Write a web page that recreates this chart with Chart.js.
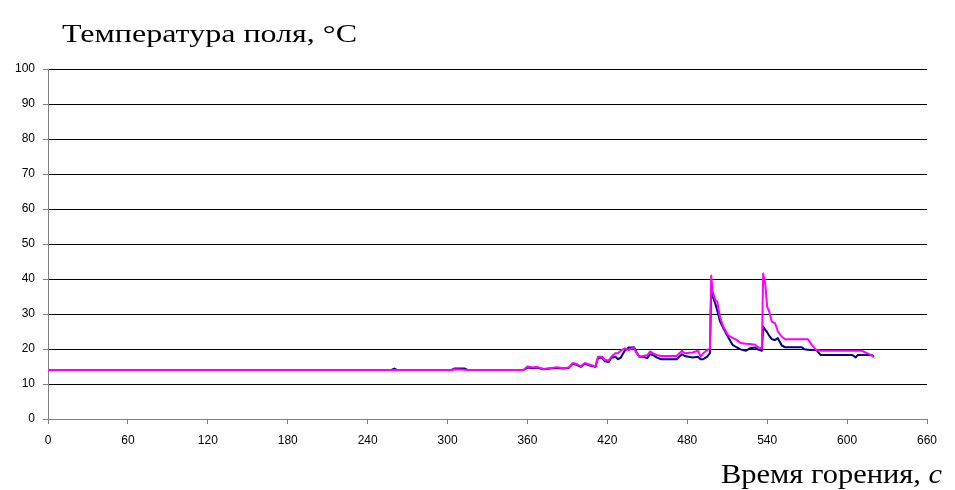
<!DOCTYPE html>
<html>
<head>
<meta charset="utf-8">
<script src="https://cdn.jsdelivr.net/npm/chart.js@4"></script>
<style>
  html, body { margin: 0; padding: 0; background: #fff; }
  #wrap { width: 955px; height: 490px; position: relative; }
</style>
</head>
<body>
<div id="wrap"><canvas id="chart" width="955" height="490"></canvas></div>
<script>
// время горения, с
const times = [
  0, 258, 260, 262, 303, 305, 313, 315, 350, 357,
  360, 364, 367, 372, 377, 382, 387, 391, 394, 397,
  400, 403, 407, 411, 413, 416, 418, 421, 423, 426,
  428, 430, 433, 436, 438, 440, 442, 444, 447, 450,
  452, 454, 457, 460, 462, 467, 472, 476, 478, 484,
  488, 490, 492, 495, 497, 498, 499, 501, 502.5, 504.5,
  507, 510.5, 514, 517, 520, 524, 527, 531, 533, 536,
  537, 538.5, 540, 541.5, 543.5, 546, 548, 551, 553.5, 560,
  566, 568, 570.5, 573.5, 577, 580, 590, 604, 606.5, 608,
  611, 615, 618.5, 620
];

// розовая линия
const tempPink = [
  14, 14, 14, 14, 14, 14.2, 14.1, 14, 14, 14,
  15, 14.7, 14.9, 14.3, 14.5, 14.8, 14.5, 14.7, 16, 15.7,
  15, 16, 15.5, 15, 17.8, 17.8, 16.9, 16.7, 17.8, 18.8,
  18.8, 19.5, 20.2, 19.7, 20.2, 20.3, 18.8, 17.8, 18, 18.2,
  19.3, 18.8, 18.3, 18, 18, 18, 18, 19.5, 18.8, 19,
  19.5, 17.8, 18.8, 19.7, 20, 41, 36.5, 34, 33.5, 29.2,
  26.4, 24, 23.2, 22.6, 21.7, 21.5, 21.4, 21.2, 20.5, 20.2,
  41.6, 38.7, 32.1, 30.7, 27.8, 27.3, 25, 23.5, 22.8, 22.8,
  22.8, 22.8, 22.8, 21.2, 19.7, 19.5, 19.5, 19.5, 19.5, 19.5,
  19.5, 18.8, 18.2, 17.8
];

// синяя линия
const tempBlue = [
  14, 14, 14.4, 14, 14, 14.4, 14.4, 14, 14, 14,
  14.7, 14.5, 14.7, 14.2, 14.4, 14.6, 14.4, 14.6, 15.8, 15.5,
  14.9, 15.8, 15.3, 14.9, 17.5, 17.5, 16.5, 16.3, 17.5, 17.8,
  17.1, 17.5, 19.5, 20.4, 20.4, 20.5, 19, 17.8, 17.8, 17.4,
  18.5, 18.3, 17.6, 17.1, 17.1, 17.1, 17.1, 18.5, 18, 17.6,
  17.8, 17.1, 17.1, 17.8, 18.8, 37.8, 35, 33, 31, 28,
  26, 23.5, 21.2, 20.5, 19.9, 19.5, 20.2, 20.4, 19.9, 19.5,
  26.4, 25.5, 24.8, 23.8, 22.8, 22.6, 23.1, 21, 20.5, 20.5,
  20.5, 19.9, 19.8, 19.7, 19.7, 18.3, 18.3, 18.3, 17.6, 18.3,
  18.3, 18.3, 18.3, 17.7
];

const xTicks = [0, 60, 120, 180, 240, 300, 360, 420, 480, 540, 600, 660];
const yTicks = [0, 10, 20, 30, 40, 50, 60, 70, 80, 90, 100];

const yTitle = 'Температура поля, °C';
const xTitle = 'Время горения, ';
const xTitleUnit = 'с';

const toPoints = vals => times.map((t, i) => ({ x: t, y: vals[i] }));

// подписи осей рисуем сами (в оригинале шрифт растянут по ширине)
const titlesPlugin = {
  id: 'titles',
  afterDraw(chart) {
    const { ctx, chartArea } = chart;
    const serif = '"Liberation Serif", "Times New Roman", serif';
    ctx.save();
    ctx.fillStyle = '#000';
    ctx.textBaseline = 'alphabetic';

    // заголовок оси Y
    ctx.save();
    ctx.font = '25px ' + serif;
    ctx.textAlign = 'left';
    const w0 = ctx.measureText(yTitle).width;
    const sx0 = 295 / w0;
    ctx.translate(chartArea.left + 14, 42);
    ctx.scale(sx0, 1);
    ctx.fillText(yTitle, 0, 0);
    ctx.restore();

    // заголовок оси X
    ctx.save();
    ctx.font = '27px ' + serif;
    const wMain = ctx.measureText(xTitle).width;
    ctx.font = 'italic 27px ' + serif;
    const wUnit = ctx.measureText(xTitleUnit).width;
    const sx1 = 221 / (wMain + wUnit);
    ctx.translate(chartArea.right + 15 - 221, 483);
    ctx.scale(sx1, 1);
    ctx.textAlign = 'left';
    ctx.font = '27px ' + serif;
    ctx.fillText(xTitle, 0, 0);
    ctx.font = 'italic 27px ' + serif;
    ctx.fillText(xTitleUnit, wMain, 0);
    ctx.restore();

    ctx.restore();
  }
};

const ctx = document.getElementById('chart').getContext('2d');

new Chart(ctx, {
  type: 'line',
  data: {
    datasets: [
      {
        data: toPoints(tempPink),
        borderColor: '#ff00ff',
        borderWidth: 2,
        borderJoinStyle: 'round',
        pointRadius: 0,
        tension: 0,
        fill: false,
      },
      {
        data: toPoints(tempBlue),
        borderColor: '#000080',
        borderWidth: 2,
        borderJoinStyle: 'round',
        pointRadius: 0,
        tension: 0,
        fill: false,
      }
    ]
  },
  options: {
    responsive: false,
    animation: false,
    layout: { padding: { top: 69, right: 28, left: 0, bottom: 0 } },
    plugins: {
      legend: { display: false },
      tooltip: { enabled: false },
    },
    scales: {
      x: {
        type: 'linear',
        min: 0,
        max: 660,
        afterBuildTicks: s => { s.ticks = xTicks.map(v => ({ value: v })); },
        afterFit: s => { s.height = 71; },
        border: { color: '#808080', width: 1 },
        grid: {
          drawOnChartArea: false,
          drawTicks: true,
          tickLength: 5,
          tickColor: '#808080',
        },
        ticks: {
          font: { family: '"Liberation Sans", Arial, sans-serif', size: 12 },
          color: '#000',
          padding: 9,
          maxRotation: 0,
        }
      },
      y: {
        min: 0,
        max: 100,
        afterBuildTicks: s => { s.ticks = yTicks.map(v => ({ value: v })); },
        afterFit: s => { s.width = 48; },
        border: { color: '#808080', width: 1 },
        grid: {
          color: '#000',
          lineWidth: 1,
          drawTicks: true,
          tickLength: 5,
          tickColor: '#808080',
        },
        ticks: {
          font: { family: '"Liberation Sans", Arial, sans-serif', size: 12 },
          color: '#000',
          padding: 8,
        }
      }
    }
  },
  plugins: [titlesPlugin]
});
</script>
</body>
</html>
